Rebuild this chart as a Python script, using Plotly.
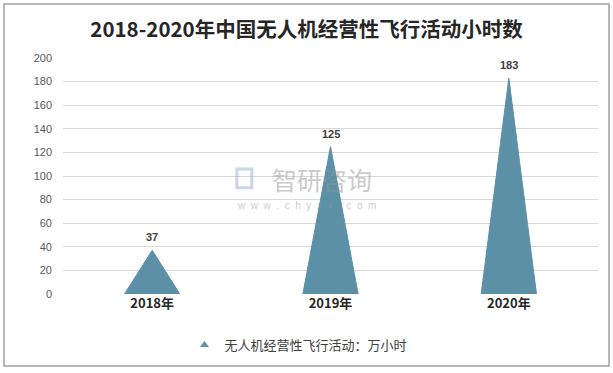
import plotly.graph_objects as go

categories = ["2018年", "2019年", "2020年"]
values = [37, 125, 183]
series_name = "无人机经营性飞行活动：万小时"
y_ticks = [0, 20, 40, 60, 80, 100, 120, 140, 160, 180, 200]
title = "2018-2020年中国无人机经营性飞行活动小时数"

color = "#5B90A7"
half_w = 0.155
font_cn = "Microsoft YaHei, Noto Sans CJK SC, sans-serif"
font_num = "Liberation Sans, Arial, sans-serif"

fig = go.Figure()
for i, (c, v) in enumerate(zip(categories, values)):
    fig.add_trace(go.Scatter(
        x=[i - half_w, i, i + half_w, i - half_w],
        y=[0, v, 0, 0],
        mode="lines", fill="toself", fillcolor=color,
        line=dict(color=color, width=1),
        hoverinfo="skip", showlegend=False,
    ))
    fig.add_annotation(x=i, y=v, text=f"<b>{v}</b>", showarrow=False,
                       yshift=13, font=dict(size=11, color="#404040", family=font_num))

# legend entry
fig.add_trace(go.Scatter(x=[None], y=[None], mode="markers", name=series_name,
                         marker=dict(symbol="triangle-up", size=8, color=color)))

# watermark
fig.add_annotation(xref="paper", yref="paper", x=0.485, y=0.487, text="智研咨询",
                   showarrow=False, font=dict(size=25, color="rgba(150,150,150,0.5)",
                                              family=font_cn))
fig.add_annotation(xref="paper", yref="paper", x=0.456, y=0.375,
                   text="w  w  w  .  c  h  y  x  x  .  c  o  m",
                   showarrow=False, font=dict(size=10, color="rgba(150,150,150,0.5)",
                                              family=font_num))

fig.update_layout(
    width=613, height=373,
    margin=dict(l=63, r=15, t=58, b=79),
    paper_bgcolor="white", plot_bgcolor="white",
    title=dict(text=f"<b>{title}</b>", x=0.5, xanchor="center", y=1 - 30 / 373, yanchor="middle",
               font=dict(size=20.5, color="#262626", family=font_cn)),
    xaxis=dict(range=[-0.5, 2.5], tickmode="array", tickvals=[0, 1, 2],
               ticktext=[f"<b>{c}</b>" for c in categories],
               showgrid=False, zeroline=False, showline=False,
               tickfont=dict(size=13, color="#262626", family=font_cn), ticks=""),
    yaxis=dict(range=[0, 200], tickmode="array", tickvals=y_ticks,
               showgrid=True, gridcolor="#D9D9D9", gridwidth=1, zeroline=False,
               showline=False, ticks="", ticklabelstandoff=10,
               tickfont=dict(size=11, color="#595959", family=font_num)),
    legend=dict(orientation="h", x=0.44, xanchor="center", y=-0.216, yanchor="middle",
                font=dict(size=13, color="#404040", family=font_cn)),
    shapes=[
        dict(type="rect", xref="paper", yref="paper",
             x0=-0.1103, x1=1.0206, y0=-0.305, y1=1.2288,
             line=dict(color="#A0A0A0", width=1.5)),
        # watermark logo
        dict(type="rect", xref="paper", yref="paper",
             x0=0.325, x1=0.353, y0=0.45, y1=0.53,
             line=dict(color="rgba(140,160,205,0.45)", width=3),
             fillcolor="rgba(0,0,0,0)"),
    ],
)

fig.write_html("out.html", config={"displayModeBar": False},
               post_script="document.body.style.margin='0';document.body.style.overflow='hidden';")
